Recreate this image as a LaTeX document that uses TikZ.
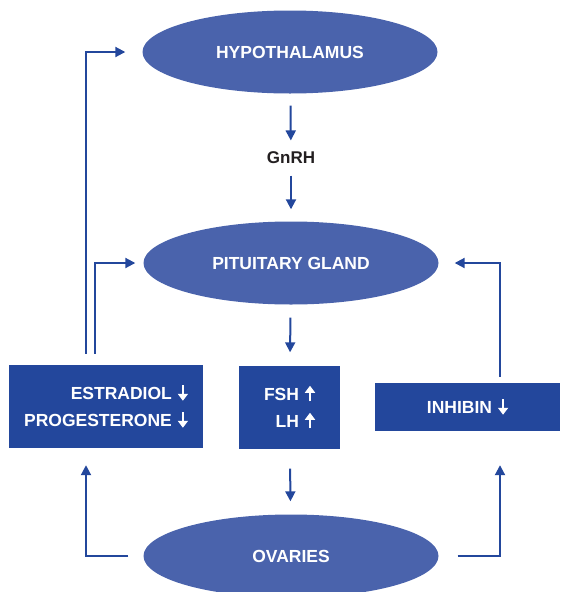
\documentclass[tikz,border=0pt]{standalone}
\usepackage{fontspec}
\setmainfont{Liberation Sans}
\usetikzlibrary{shapes.geometric,arrows.meta}

\definecolor{ellblue}{HTML}{4A63AC}
\definecolor{boxblue}{HTML}{23479C}
\definecolor{txtgray}{HTML}{231F20}

% small white arrows inside the boxes
\newcommand{\arrdn}{\hspace{6pt}\tikz[baseline=0pt]\draw[white,line width=2.6pt,-{Triangle[length=7pt,width=10pt]}] (0pt,14.5pt) -- (0pt,-1pt);}
\newcommand{\arrup}{\hspace{6pt}\tikz[baseline=0pt]\draw[white,line width=2.6pt,-{Triangle[length=7pt,width=10pt]}] (0pt,-1pt) -- (0pt,14.5pt);}

\begin{document}
\begin{tikzpicture}[
    x=1pt,y=-1pt,
    organ/.style={ellipse,fill=ellblue,text=white,inner sep=0pt,
      minimum width=295pt,minimum height=83pt,
      font=\bfseries\fontsize{17.5}{27}\selectfont},
    hormone/.style={rectangle,fill=boxblue,text=white,inner sep=0pt,align=right,
      font=\bfseries\fontsize{17.5}{27}\selectfont},
    arr/.style={draw=boxblue,line width=2pt,-{Triangle[length=10pt,width=10pt]}}
    ]

    \useasboundingbox (0,0) rectangle (563,592);

    % glands:
    \node (hypo) at (290,52) [organ] {HYPOTHALAMUS};
    \node (pit) at (291,263) [organ] {PITUITARY GLAND};
    \node (ov) at (291,556) [organ] {OVARIES};

    % releasing hormone:
    \node (gnrh) at (291,158) [text=txtgray,font=\bfseries\fontsize{17}{20}\selectfont] {GnRH};

    % hormone levels:
    \node (estr) at (106,406.5) [hormone,minimum width=194pt,minimum height=83pt]
      {ESTRADIOL\arrdn\\PROGESTERONE\arrdn};
    \node (fsh) at (289.5,407) [hormone,minimum width=101pt,minimum height=83pt]
      {FSH\arrup\\LH\arrup};
    \node (inh) at (467.5,407) [hormone,minimum width=185pt,minimum height=48pt]
      {INHIBIN\arrdn};

    % main axis:
    \draw [arr,shorten <=12pt,shorten >=8pt] (hypo) to (gnrh);
    \draw [arr,shorten <=8pt,shorten >=12pt] (gnrh) to (pit);
    \draw [arr,shorten <=13pt,shorten >=13pt] (pit) to (fsh);
    \draw [arr,shorten <=20pt,shorten >=13pt] (fsh) to (ov);

    % feedback loops:
    \draw [arr,shorten <=11pt,shorten >=17pt] ([xshift=-20pt]estr.north) |- (hypo.west);
    \draw [arr,shorten <=11pt,shorten >=8pt] ([xshift=-11pt]estr.north) |- (pit.west);
    \draw [arr,shorten <=6pt,shorten >=16pt] ([xshift=32.5pt]inh.north) |- (pit.east);

    % ovaries to hormones:
    \draw [arr,shorten <=15pt,shorten >=17pt] (ov.west) -| ([xshift=-20pt]estr.south);
    \draw [arr,shorten <=19pt,shorten >=34pt] (ov.east) -| ([xshift=32.5pt]inh.south);

  \end{tikzpicture}
\end{document}
